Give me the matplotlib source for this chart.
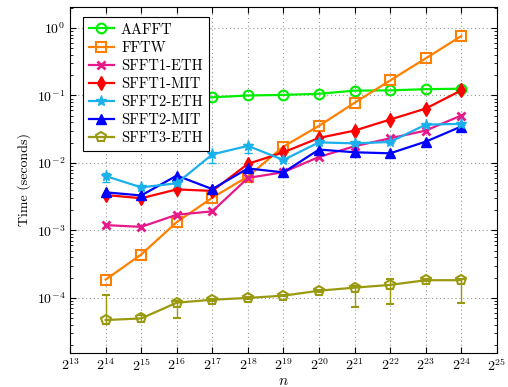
import numpy as np
import matplotlib
matplotlib.use('Agg')
import matplotlib.pyplot as plt

plt.rcParams['font.family'] = 'serif'
plt.rcParams['font.serif'] = ['cmr10']
plt.rcParams['mathtext.fontset'] = 'cm'
plt.rcParams['axes.formatter.use_mathtext'] = True
plt.rcParams['axes.unicode_minus'] = False

# signal sizes n = 2^14 ... 2^24
exponents = list(range(14, 25))

aafft = [0.090, 0.092, 0.093, 0.094, 0.100, 0.102, 0.106, 0.118, 0.119, 0.124, 0.126]
fftw = [1.87e-4, 4.4e-4, 1.33e-3, 3.06e-3, 6.3e-3, 0.0175, 0.0355, 0.078, 0.167, 0.355, 0.76]
sfft1_eth = [1.2e-3, 1.13e-3, 1.71e-3, 1.92e-3, 6.0e-3, 7.3e-3, 0.0123, 0.0177, 0.0232, 0.0302, 0.0505]
sfft1_mit = [3.35e-3, 3.0e-3, 4.06e-3, 3.85e-3, 9.7e-3, 0.0144, 0.0235, 0.0302, 0.044, 0.064, 0.119]
sfft2_eth = [6.4e-3, 4.35e-3, 5.0e-3, 0.0134, 0.0179, 0.0111, 0.0202, 0.0195, 0.0205, 0.037, 0.038]
sfft2_mit = [3.67e-3, 3.3e-3, 6.5e-3, 4.1e-3, 8.3e-3, 7.25e-3, 0.0158, 0.0144, 0.0139, 0.0207, 0.0347]
sfft3_eth = [4.7e-5, 4.97e-5, 8.5e-5, 9.4e-5, 1.0e-4, 1.08e-4, 1.28e-4, 1.42e-4, 1.56e-4, 1.83e-4, 1.83e-4]

# error bar ends (low, high)
sfft2_eth_lo = [5.2e-3, 4.2e-3, 4.8e-3, 9.9e-3, 0.014, 0.0108, 0.0198, 0.019, 0.020, 0.036, 0.037]
sfft2_eth_hi = [7.2e-3, 4.5e-3, 5.2e-3, 0.0140, 0.0190, 0.0114, 0.0206, 0.0200, 0.0210, 0.038, 0.039]
sfft3_eth_lo = [4.1e-5, 4.4e-5, 5.0e-5, 9.0e-5, 9.7e-5, 1.05e-4, 1.24e-4, 7.3e-5, 8.0e-5, 1.78e-4, 8.5e-5]
sfft3_eth_hi = [1.1e-4, 5.6e-5, 9.0e-5, 9.8e-5, 1.03e-4, 1.11e-4, 1.32e-4, 1.5e-4, 1.9e-4, 1.88e-4, 1.9e-4]

n = [2.0 ** e for e in exponents]

fig = plt.figure(figsize=(5.08, 3.87), dpi=100)
ax = fig.add_axes([0.138, 0.088, 0.840, 0.894])

lw = 1.6
ms = 7
h1, = ax.plot(n, aafft, color='#00ee00', marker='o', mfc='none', mew=1.5, ms=ms, lw=lw, label='AAFFT', zorder=3)
h2, = ax.plot(n, fftw, color='#ff8000', marker='s', mfc='none', mew=1.5, ms=ms, lw=lw, label='FFTW', zorder=3)
h3, = ax.plot(n, sfft1_eth, color='#e6198a', marker='x', mew=2, ms=6, lw=lw, label='SFFT1-ETH', zorder=3)
h4, = ax.plot(n, sfft1_mit, color='#ff0000', marker='d', ms=ms, lw=lw, label='SFFT1-MIT', zorder=3)
e5 = ax.errorbar(n, sfft2_eth,
                 yerr=[np.array(sfft2_eth) - np.array(sfft2_eth_lo), np.array(sfft2_eth_hi) - np.array(sfft2_eth)],
                 color='#19b0ec', marker='*', ms=8, lw=lw, capsize=3, elinewidth=1, zorder=3)
h6, = ax.plot(n, sfft2_mit, color='#0000ff', marker='^', ms=ms, lw=lw, label='SFFT2-MIT', zorder=3)
e7 = ax.errorbar(n, sfft3_eth,
                 yerr=[np.array(sfft3_eth) - np.array(sfft3_eth_lo), np.array(sfft3_eth_hi) - np.array(sfft3_eth)],
                 color='#9a9a10', marker='p', mfc='none', mew=1.5, ms=ms, lw=lw, capsize=3, elinewidth=1,
                 zorder=3)

ax.set_xscale('log', base=2)
ax.set_yscale('log')
ax.set_xlim(2.0 ** 13, 2.0 ** 25)
ax.set_ylim(1.53e-5, 2.05)
ax.set_xticks([2.0 ** e for e in range(13, 26)])
ax.set_xticklabels([r'$2^{%d}$' % e for e in range(13, 26)])
ax.set_yticks([1e-4, 1e-3, 1e-2, 1e-1, 1e0])
ax.set_yticklabels([r'$10^{-4}$', r'$10^{-3}$', r'$10^{-2}$', r'$10^{-1}$', r'$10^{0}$'])
ax.minorticks_on()
ax.xaxis.set_minor_locator(matplotlib.ticker.NullLocator())
ax.tick_params(which='both', direction='in', top=True, right=True, labelsize=10)
ax.tick_params(which='major', length=4)
ax.tick_params(which='minor', length=2)
ax.grid(True, which='major', linestyle=(0, (1, 2.5)), color='#999999', linewidth=0.8)

ax.set_xlabel(r'$n$', fontsize=11, labelpad=0)
ax.set_ylabel('Time (seconds)', fontsize=10, labelpad=4)

handles = [h1, h2, h3, h4, e5.lines[0], h6, e7.lines[0]]
labels = ['AAFFT', 'FFTW', 'SFFT1-ETH', 'SFFT1-MIT', 'SFFT2-ETH', 'SFFT2-MIT', 'SFFT3-ETH']
leg = ax.legend(handles, labels, loc='upper left', bbox_to_anchor=(13 / 427, 1 - 10 / 346),
                borderaxespad=0, fontsize=10.5, frameon=True,
                fancybox=False, edgecolor='black', framealpha=1, handlelength=1.7,
                labelspacing=0.3, borderpad=0.4, handletextpad=0.5)
leg.get_frame().set_linewidth(0.8)
leg.set_zorder(5)

plt.savefig('out.png', dpi=100)
plt.close()
